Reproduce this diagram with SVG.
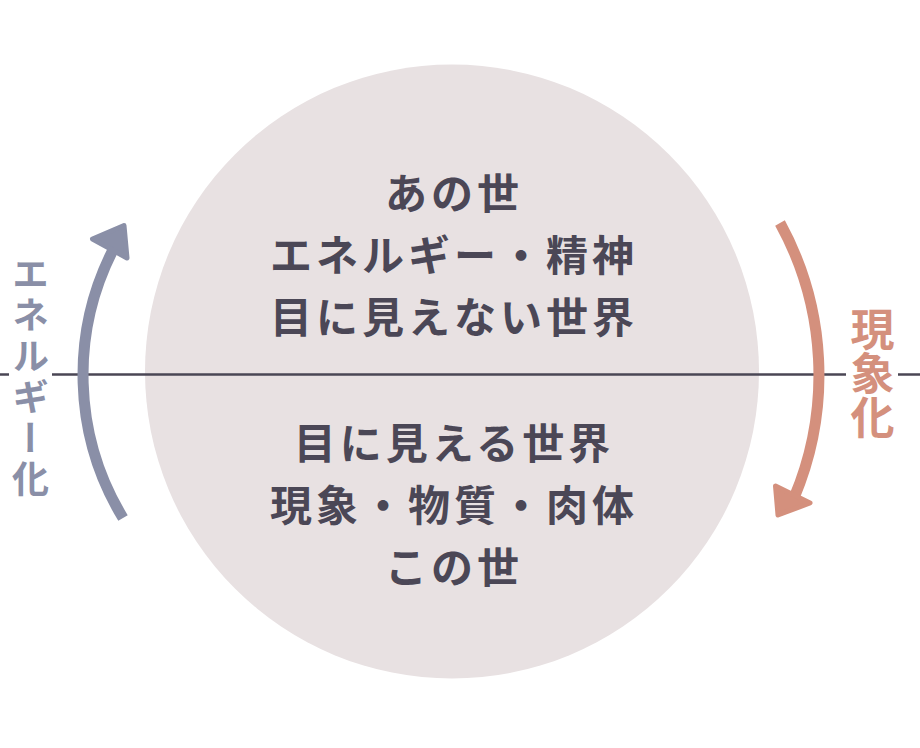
<svg xmlns="http://www.w3.org/2000/svg" width="920" height="748" viewBox="0 0 920 748">
<style>
.main{font-family:"Noto Sans CJK JP","Noto Sans CJK SC",sans-serif;font-weight:700;font-size:42px;fill:#4b4756;text-anchor:middle;dominant-baseline:central;letter-spacing:4px}
.vlab{font-family:"Noto Sans CJK JP","Noto Sans CJK SC",sans-serif;font-weight:700;writing-mode:vertical-rl;text-anchor:middle}
.axis{stroke:#4a4654;stroke-width:2.5;fill:none}
.arc{fill:none;stroke-width:11}
.head{stroke-width:5;stroke-linejoin:round}
</style>
<rect width="920" height="748" fill="#ffffff"/>
<g id="circle">
<circle cx="452" cy="371.5" r="307" fill="#e8e1e2"/>
</g>
<g id="connectors">
<line class="axis" x1="0" y1="374.5" x2="9" y2="374.5"/>
<line class="axis" x1="52" y1="374.5" x2="846" y2="374.5"/>
<line class="axis" x1="898" y1="374.5" x2="920" y2="374.5"/>
<path class="arc" stroke="#8a8fa7" d="M123,518 A276,276 0 0 1 115,246"/>
<polygon class="head" fill="#8a8fa7" stroke="#8a8fa7" points="124,225.5 92.5,239 127,258"/>
<path class="arc" stroke="#d4907d" d="M780,223 A316,316 0 0 1 794,498"/>
<polygon class="head" fill="#d4907d" stroke="#d4907d" points="778,515 775.5,486 810,503"/>
</g>
<g id="upper">
<text class="main" x="454" y="190">あの世</text>
<text class="main" x="454" y="252">エネルギー・精神</text>
<text class="main" x="454" y="314">目に見えない世界</text>
</g>
<g id="lower">
<text class="main" x="454" y="440">目に見える世界</text>
<text class="main" x="454" y="502">現象・物質・肉体</text>
<text class="main" x="454" y="564">この世</text>
</g>
<g id="label-left">
<text class="vlab" x="30.5" y="378" font-size="37" letter-spacing="4" fill="#8a8fa7">エネルギー化</text>
</g>
<g id="label-right">
<text class="vlab" x="872.5" y="373" font-size="44" fill="#d4907d">現象化</text>
</g>
</svg>
